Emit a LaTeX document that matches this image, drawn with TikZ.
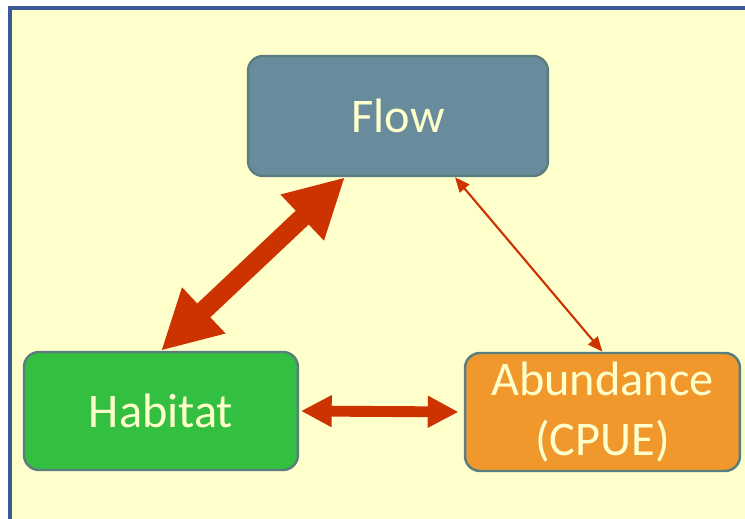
\documentclass[tikz,border=0pt]{standalone}
\usepackage{fontspec}
\setmainfont{Carlito}
\usepackage{tikz}
\usetikzlibrary{arrows.meta}
\definecolor{paper}{HTML}{FFFFCC}
\definecolor{frame}{HTML}{3B5998}
\definecolor{edge}{HTML}{5A7E80}
\definecolor{flowc}{HTML}{688C9C}
\definecolor{habc}{HTML}{33BF3F}
\definecolor{abuc}{HTML}{F0982B}
\definecolor{link}{HTML}{CC3300}
\tikzstyle{box} = [draw=edge, line width=1.4pt, rounded corners=8.5pt, text=paper, align=center, font={\fontsize{27.5}{34}\selectfont}]
\tikzstyle{strong} = [draw=link, line width=10.8pt, {Triangle[length=33.5pt,width=33.5pt]}-{Triangle[length=33.5pt,width=33.5pt]}]
\tikzstyle{medium} = [draw=link, line width=6.2pt, {Triangle[length=17.5pt,width=17pt]}-{Triangle[length=17.5pt,width=17pt]}]
\tikzstyle{weak} = [draw=link, line width=1.2pt, {Triangle[length=8.5pt,width=7pt]}-{Triangle[length=8.5pt,width=7pt]}]

\begin{document}
\begin{tikzpicture}[x=0.02cm,y=-0.02cm]
  \useasboundingbox (0,0) rectangle (745,519);
  \fill[white] (0,0) rectangle (745,519);
  \draw[frame, fill=paper, line width=2pt] (10,8) rectangle (770,540);
  \node[box,fill=flowc,minimum width=6cm,minimum height=2.4cm](flow) at (398,116){Flow};
  \node[box,fill=habc,minimum width=5.48cm,minimum height=2.36cm](habitat) at (161,411){Habitat};
  \node[box,fill=abuc,minimum width=5.5cm,minimum height=2.36cm](cpue) at (602.5,412){Abundance\\(CPUE)};
  \draw[strong]([xshift=-1.06cm]flow.south)--(habitat.north);
  \draw[medium,shorten <=1pt,shorten >=3pt](habitat.east)--(cpue.west);
  \draw[weak]([xshift=1.14cm]flow.south)--(cpue.north);
\end{tikzpicture}
\end{document}
